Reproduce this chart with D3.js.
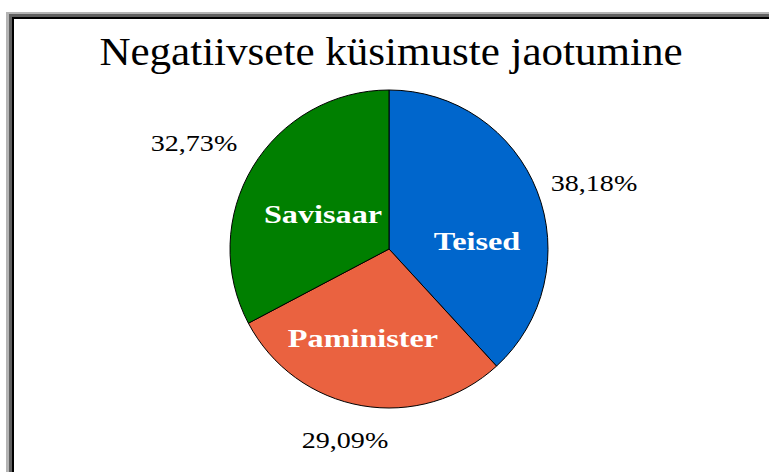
<!DOCTYPE html>
<html><head><meta charset="utf-8">
<script src="https://cdn.jsdelivr.net/npm/d3@7/dist/d3.min.js"></script>
<style>html,body{margin:0;padding:0;background:#fff;}svg{display:block;}</style>
</head><body>
<svg id="c" width="769" height="472"></svg>
<script>
const title = "Negatiivsete küsimuste jaotumine";
const categories = ["Teised", "Paminister", "Savisaar"];
const values = [38.18, 29.09, 32.73];
const percentLabels = ["38,18%", "29,09%", "32,73%"];
const colors = ["#0066CC", "#EA6240", "#007F00"];

// label layout (text anchor points, relative to pie centre)
const innerOffsets = [[88, 1], [-26, 98], [-66, -26]];
const outerOffsets = [[205, -58], [-44, 199], [-195, -98]];
const innerStretch = 1.24;
const outerStretch = 1.17;

const svg = d3.select("#c");
// frame
svg.append("rect").attr("x",6).attr("y",12).attr("width",800).attr("height",500).attr("fill","#b4b4b4");
svg.append("rect").attr("x",9).attr("y",14).attr("width",800).attr("height",500).attr("fill","#606060");
svg.append("rect").attr("x",12).attr("y",17).attr("width",800).attr("height",500).attr("fill","#000");
svg.append("rect").attr("x",14).attr("y",19).attr("width",800).attr("height",500).attr("fill","#fff");

svg.append("text").attr("transform","translate(391,65) scale(1.05,1)").attr("text-anchor","middle")
  .attr("font-family","'Liberation Serif','Times New Roman',serif").attr("font-size",41)
  .attr("fill","#000").text(title);

const cx = 389, cy = 249, r = 159;
const g = svg.append("g").attr("transform",`translate(${cx},${cy})`);
const pie = d3.pie().sort(null).value(d=>d)(values);
const arc = d3.arc().innerRadius(0).outerRadius(r);
g.selectAll("path.s").data(pie).join("path").attr("class","s")
  .attr("d",arc).attr("fill",(d,i)=>colors[i]).attr("stroke","#000").attr("stroke-width",1);

g.selectAll("text.in").data(pie).join("text").attr("class","in")
  .attr("transform",(d,i)=>`translate(${innerOffsets[i][0]},${innerOffsets[i][1]}) scale(${innerStretch},1)`)
  .attr("text-anchor","middle").attr("font-family","'Liberation Serif','Times New Roman',serif")
  .attr("font-weight","bold").attr("font-size",26).attr("fill","#fff")
  .text((d,i)=>categories[i]);

g.selectAll("text.out").data(pie).join("text").attr("class","out")
  .attr("transform",(d,i)=>`translate(${outerOffsets[i][0]},${outerOffsets[i][1]}) scale(${outerStretch},1)`)
  .attr("text-anchor","middle").attr("font-family","'Liberation Serif','Times New Roman',serif")
  .attr("font-size",24).attr("fill","#000")
  .text((d,i)=>percentLabels[i]);
</script>
</body></html>
